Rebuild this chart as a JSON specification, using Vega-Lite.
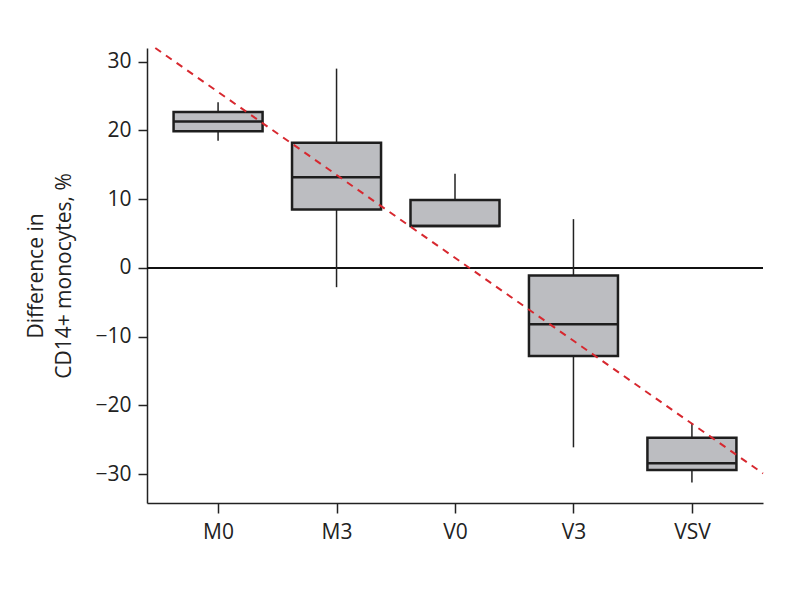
{
  "$schema": "https://vega.github.io/schema/vega-lite/v6.json",
  "autosize": {"type": "none"},
  "width": 616,
  "height": 455,
  "padding": {"left": 147, "top": 48, "right": 23, "bottom": 88},
  "background": "white",
  "config": {
    "view": {"stroke": null},
    "font": "Open Sans",
    "axis": {
      "labelFont": "Open Sans",
      "titleFont": "Open Sans",
      "labelFontSize": 21,
      "titleFontSize": 21,
      "labelColor": "#222",
      "titleColor": "#222",
      "titleFontWeight": "normal",
      "domainColor": "#222",
      "domainWidth": 1.5,
      "tickColor": "#222",
      "tickWidth": 1.5,
      "grid": false
    }
  },
  "datasets": {
    "boxes": [
      {"group": "M0", "lo": 18.5, "q1": 19.9, "med": 21.3, "q3": 22.7, "hi": 24.1},
      {"group": "M3", "lo": -2.8, "q1": 8.5, "med": 13.2, "q3": 18.2, "hi": 29.0},
      {"group": "V0", "lo": 6.1, "q1": 6.1, "med": 6.1, "q3": 9.9, "hi": 13.7},
      {"group": "V3", "lo": -26.1, "q1": -12.8, "med": -8.2, "q3": -1.1, "hi": 7.1},
      {"group": "VSV", "lo": -31.2, "q1": -29.4, "med": -28.4, "q3": -24.7, "hi": -22.6}
    ],
    "trend": [
      {"t": -0.53, "v": 32.0},
      {"t": 4.6, "v": -29.9}
    ]
  },
  "layer": [
    {
      "data": {"values": [{"zero": 0}]},
      "mark": {"type": "rule", "color": "#111", "strokeWidth": 2},
      "encoding": {
        "y": {"field": "zero", "type": "quantitative", "scale": {"domain": [-34.2, 32], "nice": false}, "axis": {"values": [-30, -20, -10, 0, 10, 20, 30], "tickSize": 9, "labelPadding": 7, "title": ["Difference in", "CD14+ monocytes, %"], "titlePadding": 20, "titleLineHeight": 28}}
      }
    },
    {
      "data": {"name": "boxes"},
      "layer": [
        {
          "mark": {"type": "rule", "color": "#222", "strokeWidth": 1.5},
          "encoding": {
            "x": {"field": "group", "type": "ordinal", "scale": {"type": "point", "padding": 0.6}, "axis": {"title": null, "labelAngle": 0, "tickSize": 10, "labelPadding": 8}},
            "y": {"field": "lo", "type": "quantitative"},
            "y2": {"field": "hi"}
          }
        },
        {
          "mark": {"type": "bar", "size": 89, "fill": "#bcbdc1", "stroke": "#1e1e1e", "strokeWidth": 2.5},
          "encoding": {
            "x": {"field": "group", "type": "ordinal"},
            "y": {"field": "q1", "type": "quantitative"},
            "y2": {"field": "q3"}
          }
        },
        {
          "mark": {"type": "tick", "orient": "horizontal", "size": 89, "thickness": 2.5, "color": "#1e1e1e", "opacity": 1},
          "encoding": {
            "x": {"field": "group", "type": "ordinal"},
            "y": {"field": "med", "type": "quantitative"}
          }
        }
      ]
    },
    {
      "data": {"name": "trend"},
      "mark": {"type": "line", "color": "#d7282f", "strokeWidth": 2, "strokeDash": [7, 6]},
      "encoding": {
        "x": {"field": "t", "type": "quantitative", "scale": {"domain": [-0.6, 4.6], "nice": false, "zero": false}, "axis": null},
        "y": {"field": "v", "type": "quantitative"}
      }
    }
  ],
  "resolve": {"scale": {"x": "independent"}}
}
